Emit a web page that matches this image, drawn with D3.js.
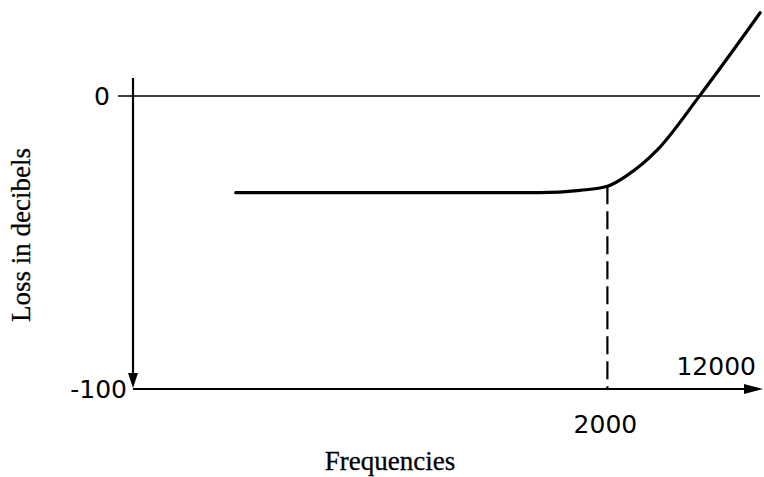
<!DOCTYPE html>
<html>
<head>
<meta charset="utf-8">
<script src="https://cdn.jsdelivr.net/npm/d3@7"></script>
<style>
  body { margin: 0; background: #fff; }
  svg { display: block; }
</style>
</head>
<body>
<script>
// curve (frequency in Hz, loss in dB)
var freqs = [20, 868, 1425, 2000, 2553, 3702, 6311, 13277];
var losses = [-33, -33, -32.2, -30.8, -27.1, -18.5, 0.3, 28.4];
var yTicks = [0, -100];
var kneeFreq = 2000;
var axisEndLabel = "12000";

var width = 764, height = 477;
var svg = d3.select("body").append("svg").attr("width", width).attr("height", height);

var x = d3.scaleLog().domain([5.6, 12000]).range([133, 752]);
var y = d3.scaleLinear().domain([-100, 0]).range([389, 96]);

var sans = "'DejaVu Sans', 'Liberation Sans', sans-serif";
var serif = "'Liberation Serif', 'Times New Roman', serif";

/*************************** axes ***************************/

// zero line
svg.append("line")
  .attr("x1", x.range()[0] - 15).attr("x2", 760)
  .attr("y1", y(0)).attr("y2", y(0))
  .style("stroke", "#000").style("stroke-width", 1.6);

// vertical axis, arrow pointing down
svg.append("line")
  .attr("x1", x.range()[0]).attr("x2", x.range()[0])
  .attr("y1", 78).attr("y2", y(-100) - 10)
  .style("stroke", "#000").style("stroke-width", 2.2);
svg.append("path")
  .attr("d", "M" + (x.range()[0] - 5) + "," + (y(-100) - 16) + " L" + (x.range()[0] + 5) + "," + (y(-100) - 16) + " L" + x.range()[0] + "," + (y(-100) - 1) + " Z")
  .style("fill", "#000");

// horizontal axis, arrow pointing right
svg.append("line")
  .attr("x1", x.range()[0]).attr("x2", 748)
  .attr("y1", y(-100)).attr("y2", y(-100))
  .style("stroke", "#000").style("stroke-width", 2.2);
svg.append("path")
  .attr("d", "M744," + (y(-100) - 5) + " L763," + y(-100) + " L744," + (y(-100) + 5) + " Z")
  .style("fill", "#000");

// tick labels
svg.selectAll("text.ytick").data(yTicks).enter().append("text")
  .attr("class", "ytick")
  .attr("x", function(d){ return d == 0 ? 110 : 127; })
  .attr("y", function(d){ return y(d) + 9; })
  .attr("text-anchor", "end")
  .style("font-family", sans).style("font-size", "25px")
  .text(function(d){ return d; });

svg.append("text")
  .attr("x", 756).attr("y", 375)
  .attr("text-anchor", "end")
  .style("font-family", sans).style("font-size", "25px")
  .text(axisEndLabel);

svg.append("text")
  .attr("x", x(kneeFreq) - 2).attr("y", 433)
  .attr("text-anchor", "middle")
  .style("font-family", sans).style("font-size", "25px")
  .text(kneeFreq);

// axis titles
svg.append("text")
  .attr("transform", "translate(30,235) rotate(-90)")
  .attr("text-anchor", "middle")
  .style("font-family", serif).style("font-size", "27px")
  .style("stroke", "#000").style("stroke-width", 0.3)
  .text("Loss in decibels");

svg.append("text")
  .attr("x", 390).attr("y", 470)
  .attr("text-anchor", "middle")
  .style("font-family", serif).style("font-size", "27px")
  .style("stroke", "#000").style("stroke-width", 0.3)
  .text("Frequencies");

/*************************** curve ***************************/

var points = freqs.map(function(f, i){ return [f, losses[i]]; });

var kneeLoss = losses[freqs.indexOf(kneeFreq)];
svg.append("line")
  .attr("x1", x(kneeFreq)).attr("x2", x(kneeFreq))
  .attr("y1", y(kneeLoss)).attr("y2", y(-100))
  .style("stroke", "#000").style("stroke-width", 2.2)
  .style("stroke-dasharray", "18,7");

svg.append("path")
  .datum(points)
  .attr("d", d3.line()
    .x(function(d){ return x(d[0]); })
    .y(function(d){ return y(d[1]); })
    .curve(d3.curveMonotoneX))
  .style("fill", "none").style("stroke", "#000").style("stroke-width", 3.2)
  .style("stroke-linecap", "round");
</script>
</body>
</html>
